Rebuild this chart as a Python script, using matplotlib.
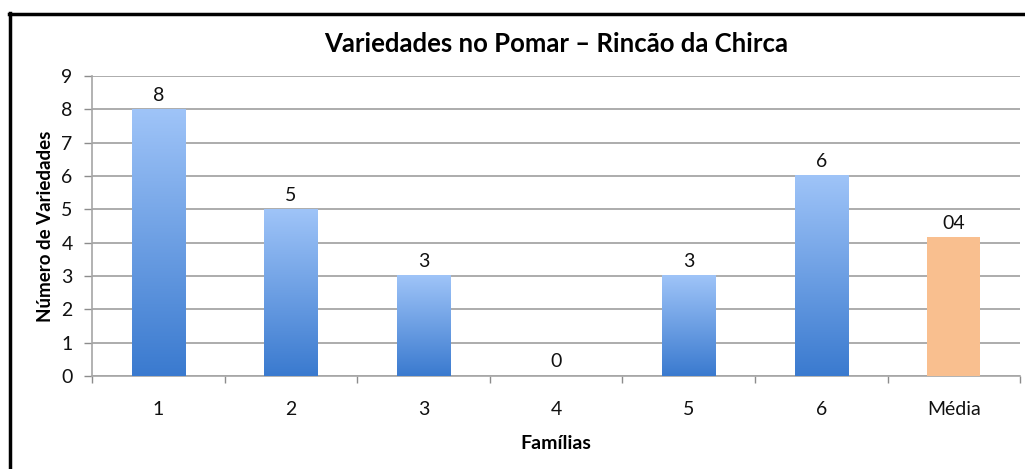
import numpy as np
import matplotlib
matplotlib.use("Agg")
import matplotlib.pyplot as plt
from matplotlib.lines import Line2D

plt.rcParams['font.family'] = ['Lato', 'DejaVu Sans']

# Dados
familias = ["1", "2", "3", "4", "5", "6", "Média"]
variedades = [8, 5, 3, 0, 3, 6]
media = sum(variedades) / len(variedades)
valores = variedades + [media]
rotulos = ["8", "5", "3", "0", "3", "6", "04"]

fig = plt.figure(figsize=(10.25, 4.69), dpi=100)
ax = fig.add_axes([0.0898, 0.1983, 0.9054, 0.6397])

x = np.arange(len(familias))
barras = ax.bar(x, valores, width=0.4, zorder=3)

# gradiente azul nas barras das famílias, laranja para a média
grad = np.linspace(0, 1, 256).reshape(-1, 1)
cmap_azul = matplotlib.colors.LinearSegmentedColormap.from_list("azul", ["#3a7acf", "#9fc4f8"])
for i, b in enumerate(barras):
    if i == len(barras) - 1:
        b.set_facecolor("#f9bf8f")
        continue
    b.set_facecolor("none")
    if b.get_height() > 0:
        ax.imshow(grad, cmap=cmap_azul, origin="lower", aspect="auto",
                  extent=[b.get_x(), b.get_x() + b.get_width(), 0, b.get_height()],
                  zorder=3)

for xi, v, r in zip(x, valores, rotulos):
    ax.annotate(r, (xi, v), xytext=(0, 4), textcoords="offset points",
                ha="center", va="bottom", fontsize=14, color="#111111")

ax.set_xlim(-0.5, len(familias) - 0.5)
ax.set_ylim(0, 9)
ax.set_yticks(range(0, 10))
ax.set_xticks(x)
ax.set_xticklabels(familias)
ax.set_xticks(np.arange(-0.5, len(familias), 1), minor=True)
ax.tick_params(axis="x", which="major", length=0, pad=18, labelsize=14, labelcolor="#111111")
ax.tick_params(axis="x", which="minor", length=5, color="#8c8c8c", width=1)
ax.tick_params(axis="y", length=6, color="#8c8c8c", width=1, labelsize=14, pad=8,
               labelcolor="#111111")
ax.grid(axis="y", color="#a6a6a6", linewidth=1.3, zorder=0)

for s in ["top", "right"]:
    ax.spines[s].set_visible(False)
for s in ["left", "bottom"]:
    ax.spines[s].set_color("#a6a6a6")
    ax.spines[s].set_linewidth(1.2)

ax.set_title("Variedades no Pomar – Rincão da Chirca", fontsize=18.5,
             fontweight="bold", pad=17)
ax.set_xlabel("Famílias", fontsize=14, fontweight="bold", labelpad=12)
ax.set_ylabel("Número de Variedades", fontsize=13.5, fontweight="bold", labelpad=5)

# moldura preta (esquerda e topo)
fig.add_artist(Line2D([0.0093, 0.0093], [0, 0.9723], color="black", linewidth=2.5,
                      transform=fig.transFigure))
fig.add_artist(Line2D([0.0083, 1.0], [0.9712, 0.9712], color="black", linewidth=2.5,
                      transform=fig.transFigure))

fig.savefig("out.png", dpi=100)
